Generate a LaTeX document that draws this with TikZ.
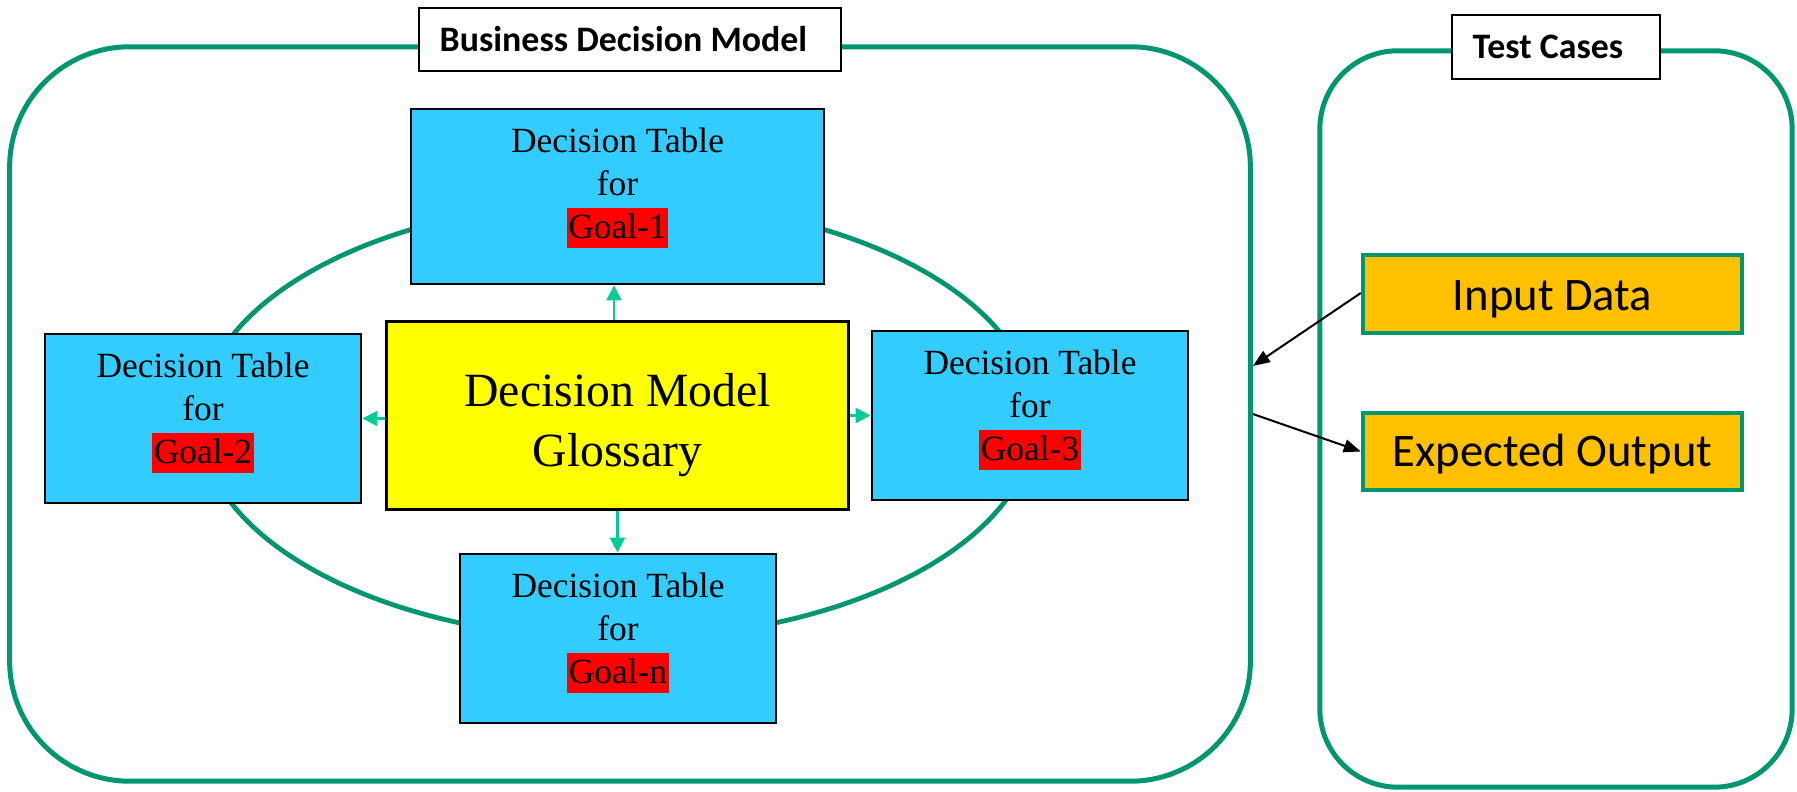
\documentclass[tikz,border=0pt]{standalone}
\usepackage{fontspec}
\setmainfont{Liberation Serif}
\newfontfamily\carlito{Carlito}
\usetikzlibrary{arrows.meta}

\definecolor{frame}{RGB}{0,150,112}
\definecolor{link}{RGB}{0,204,153}
\definecolor{tablefill}{HTML}{33CCFF}
\definecolor{goalred}{HTML}{FF0000}
\definecolor{datafill}{HTML}{FFC000}
\definecolor{glossfill}{HTML}{FFFF00}

% red highlight behind a goal name
\newcommand\goaltag[1]{{\setlength{\fboxsep}{0.5pt}\colorbox{goalred}{\rule[-0.2em]{0pt}{1.03em}#1}}}

\begin{document}
\begin{tikzpicture}[x=0.01cm,y=-0.01cm,
  container/.style={draw=frame, line width=0.05cm, rounded corners=#1, inner sep=0pt},
  titlebox/.style={draw=black, fill=white, line width=0.025cm, inner sep=0pt},
  titletext/.style={anchor=base west, inner sep=0pt, font=\carlito\bfseries\fontsize{10.2pt}{12pt}\selectfont},
  tablebox/.style={draw=black, fill=tablefill, line width=0.027cm, inner sep=0pt,
    minimum width=3.16cm, minimum height=1.69cm},
  tline/.style={anchor=base, inner sep=0pt, font=\fontsize{10.07pt}{12pt}\selectfont},
  glossbox/.style={draw=black, fill=glossfill, line width=0.03cm, inner sep=0pt},
  gline/.style={anchor=base, inner sep=0pt, font=\fontsize{13.57pt}{16pt}\selectfont},
  databox/.style={draw=frame, fill=datafill, line width=0.042cm, inner sep=0pt,
    minimum width=3.79cm, minimum height=0.775cm},
  dline/.style={anchor=base, inner sep=0pt, font=\carlito\fontsize{13.26pt}{16pt}\selectfont},
  ring/.style={draw=frame, line width=0.048cm},
  feed/.style={draw=link, line width=0.025cm, -{Triangle[length=0.15cm,width=0.15cm]}},
  flow/.style={draw=black, line width=0.02cm, -{Triangle[length=0.17cm,width=0.13cm]}}
]
\useasboundingbox (0,0) rectangle (1797,792);

% the two frames
\node[container=1.2cm, minimum width=12.4cm, minimum height=7.34cm] (bdm) at (630,414) {};
\node[container=0.78cm, minimum width=4.72cm, minimum height=7.36cm] (tc) at (1556,419) {};

% ring joining the decision tables
\draw[ring] (617.5,420) ellipse [x radius=4.17cm, y radius=2.19cm];

% decision tables
\node[tablebox, minimum width=4.13cm, minimum height=1.75cm] (g1) at (617.5,196.5) {};
\node[tablebox] (g2) at (203,418.5) {};
\node[tablebox] (g3) at (1030,415.5) {};
\node[tablebox] (gn) at (618,638.5) {};

\foreach \b/\g in {g1/1, g2/2, g3/3, gn/n}{
  \node[tline] (\b-a) at ([yshift=-0.45cm]\b.north) {Decision Table};
  \node[tline] (\b-b) at ([yshift=-0.88cm]\b.north) {for};
  \node[tline] (\b-c) at ([yshift=-1.31cm]\b.north) {\goaltag{Goal-\g}};
}

% glossary
\node[glossbox, minimum width=4.61cm, minimum height=1.87cm] (gl) at (617.5,415.5) {};
\node[gline] (gl-a) at ([yshift=-0.865cm]gl.north) {Decision Model};
\node[gline] (gl-b) at ([yshift=-1.46cm]gl.north) {Glossary};

% glossary feeds every table
\draw[feed] ([xshift=-0.035cm]gl.north) -- ([xshift=-0.035cm]g1.south);
\draw[feed] (gl.south) -- (gl.south |- gn.north);
\draw[feed] (gl.west |- g2.east) -- (g2.east);
\draw[feed] (gl.east) -- (gl.east -| g3.west);

% test data
\node[databox] (inp) at (1552.5,294) {};
\node[dline] (inp-t) at ([yshift=-0.16cm]inp.center) {Input Data};
\node[databox] (exp) at (1552.5,451.5) {};
\node[dline] (exp-t) at ([yshift=-0.155cm]exp.center) {Expected Output};

\coordinate (in-tip) at ([yshift=0.48cm]bdm.east);
\coordinate (out-start) at (bdm.east);
\draw[flow] ([yshift=0.01cm]inp.west) -- (in-tip);
\draw[flow] (out-start) -- (exp.west);

% frame titles
\node[titlebox, minimum width=4.22cm, minimum height=0.63cm] (bdm-title) at (630,39.5) {};
\node[titletext] (bdm-title-t) at (439,52) {Business Decision Model};
\node[titlebox, minimum width=2.08cm, minimum height=0.64cm] (tc-title) at (1556,47) {};
\node[titletext] (tc-title-t) at (1472,59) {Test Cases};
\end{tikzpicture}
\end{document}
